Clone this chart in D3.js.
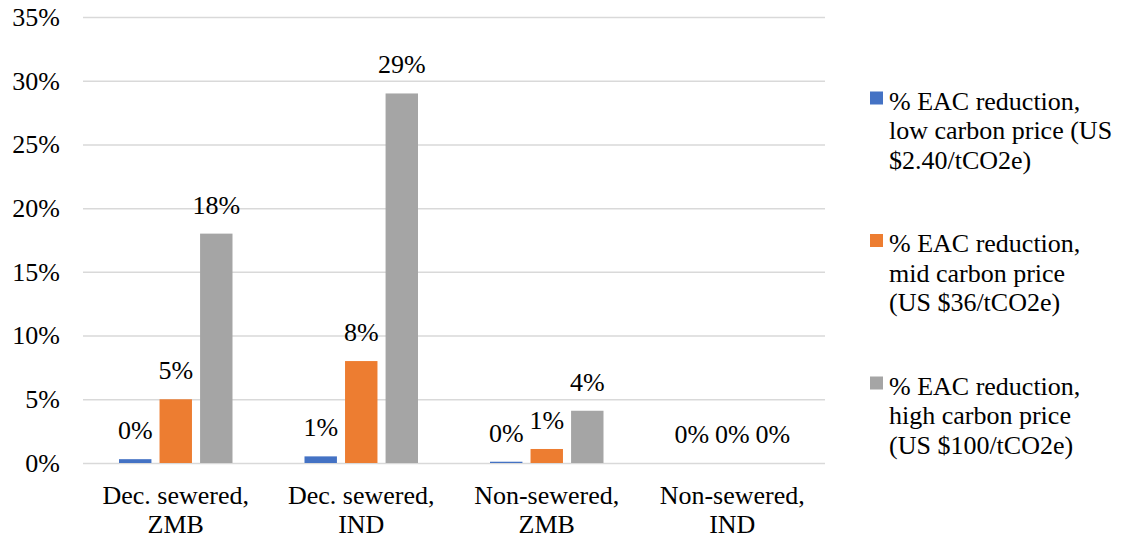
<!DOCTYPE html>
<html>
<head>
<meta charset="utf-8">
<script src="https://cdn.jsdelivr.net/npm/d3@7"></script>
</head>
<body style="margin:0">
<svg id="chart" width="1122" height="540" font-family="Liberation Serif" style="font-family: 'Liberation Serif'"></svg>
<script>
// Categories (two-line labels) and series
const categories = ["Dec. sewered, ZMB", "Dec. sewered, IND", "Non-sewered, ZMB", "Non-sewered, IND"];
const categoryLines = [["Dec. sewered,", "ZMB"], ["Dec. sewered,", "IND"], ["Non-sewered,", "ZMB"], ["Non-sewered,", "IND"]];
const seriesNames = [
  "% EAC reduction, low carbon price (US $2.40/tCO2e)",
  "% EAC reduction, mid carbon price (US $36/tCO2e)",
  "% EAC reduction, high carbon price (US $100/tCO2e)"
];
const legendLines = [
  ["% EAC reduction,", "low carbon price (US", "$2.40/tCO2e)"],
  ["% EAC reduction,", "mid carbon price", "(US $36/tCO2e)"],
  ["% EAC reduction,", "high carbon price", "(US $100/tCO2e)"]
];
const lowPrice  = [0.003, 0.0052, 0.001, 0];
const midPrice  = [0.05, 0.08, 0.011, 0];
const highPrice = [0.18, 0.29, 0.041, 0];
const seriesColors = ["#4472C4", "#ED7D31", "#A5A5A5"];
const yTicks = [0, 0.05, 0.10, 0.15, 0.20, 0.25, 0.30, 0.35];

const seriesValues = [lowPrice, midPrice, highPrice];
const FONT = "Liberation Serif";

const svg = d3.select("#chart");
const plot = { left: 83, right: 825, top: 17, bottom: 463 };

const y = d3.scaleLinear().domain([0, 0.35]).range([plot.bottom, plot.top]);
const x0 = d3.scaleBand().domain(categories).range([plot.left, plot.right]).padding(0);
const groupInset = 36;
const x1 = d3.scaleBand().domain(d3.range(seriesNames.length))
  .range([groupInset, x0.bandwidth() - groupInset]).paddingInner(0.2).paddingOuter(0);
const fmt = d3.format(".0%");

// Horizontal gridlines (including the baseline)
const yAxis = d3.axisLeft(y).tickValues(yTicks).tickFormat(fmt)
  .tickSize(-(plot.right - plot.left)).tickPadding(23);
const gy = svg.append("g").attr("transform", `translate(${plot.left},0)`).call(yAxis);
gy.attr("font-family", FONT);
gy.select(".domain").remove();
gy.selectAll(".tick line").attr("stroke", "#D9D9D9").attr("stroke-width", 1.5);
gy.selectAll(".tick text")
  .attr("font-size", 26).attr("fill", "#000")
  .attr("font-family", FONT);

// Bars
const groups = svg.append("g").selectAll("g")
  .data(categories)
  .join("g")
  .attr("transform", d => `translate(${x0(d)},0)`);

groups.selectAll("rect")
  .data((d, i) => seriesValues.map((vals, s) => ({ s, v: vals[i] })))
  .join("rect")
  .attr("x", d => x1(d.s))
  .attr("width", x1.bandwidth())
  .attr("y", d => y(d.v))
  .attr("height", d => y(0) - y(d.v))
  .attr("fill", d => seriesColors[d.s]);

// Value labels above bars
groups.selectAll("text.val")
  .data((d, i) => seriesValues.map((vals, s) => ({ s, v: vals[i] })))
  .join("text")
  .attr("class", "val")
  .attr("x", d => x1(d.s) + x1.bandwidth() / 2)
  .attr("y", d => y(d.v) - 20)
  .attr("text-anchor", "middle")
  .attr("font-size", 26)
  .attr("fill", "#000")
  .attr("font-family", FONT)
  .text(d => fmt(d.v));

// Category labels
const xAxis = svg.append("g");
categories.forEach((c, i) => {
  const t = xAxis.append("text")
    .attr("text-anchor", "middle")
    .attr("font-size", 26)
    .attr("fill", "#000")
    .attr("font-family", FONT);
  categoryLines[i].forEach((line, j) => {
    t.append("tspan")
      .attr("x", x0(c) + x0.bandwidth() / 2)
      .attr("y", 504 + j * 28.5)
      .text(line);
  });
});

// Legend
const legend = svg.append("g");
const legendTop = 109.5, legendStep = 142.5, lineStep = 29.5;
seriesNames.forEach((name, s) => {
  const by = legendTop + s * legendStep;
  legend.append("rect")
    .attr("x", 870).attr("y", by - 18)
    .attr("width", 13).attr("height", 13)
    .attr("fill", seriesColors[s]);
  const t = legend.append("text").attr("font-size", 26).attr("fill", "#000")
    .attr("font-family", FONT);
  legendLines[s].forEach((line, j) => {
    t.append("tspan").attr("x", 889).attr("y", by + j * lineStep).text(line);
  });
});
</script>
</body>
</html>
